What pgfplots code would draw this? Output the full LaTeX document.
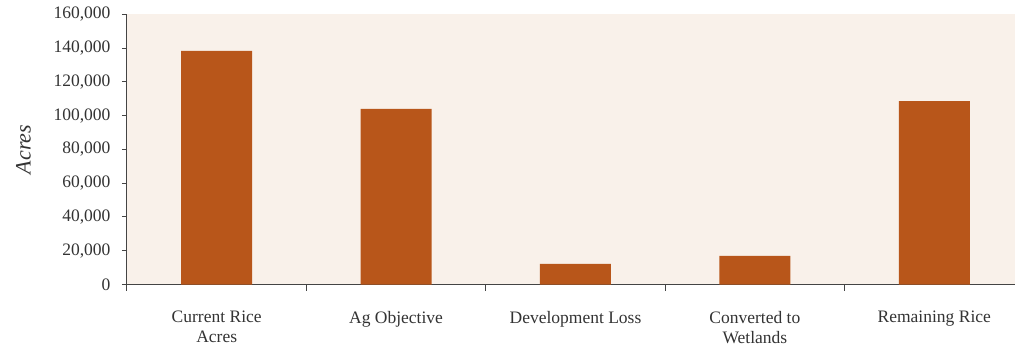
\documentclass[border=0pt]{standalone}
\usepackage{pgfplots}
\pgfplotsset{compat=1.18}
\usepackage{fontspec}
\setmainfont{Liberation Serif}
\definecolor{barcol}{HTML}{B8561A}
\definecolor{bgcol}{HTML}{F9F1EA}
\definecolor{txtcol}{HTML}{333333}
\definecolor{axcol}{HTML}{444444}
\begin{document}
\begin{tikzpicture}
\useasboundingbox (-127pt,-63.5pt) rectangle (888pt,284.5pt);
\begin{axis}[
  anchor=south west,
  scale only axis,
  width=888pt, height=270pt,
  xmin=-0.5, xmax=4.45,
  ymin=0, ymax=160000,
  axis x line=bottom, axis y line=left,
  axis line style={-, color=axcol, line width=1pt},
  axis background/.style={fill=bgcol},
  font=\fontsize{17.5}{20}\selectfont,
  tick align=outside,
  tick style={color=axcol, line width=1pt},
  major tick length=5pt, minor tick length=6pt,
  xtick={0,1,2,3,4},
  xticklabels={{Current Rice\\Acres},{Ag Objective},{Development Loss},{Converted to\\Wetlands},{Remaining Rice}},
  major x tick style={draw=none},
  minor xtick={-0.5,0.5,1.5,2.5,3.5},
  x tick label style={align=center, text=txtcol, yshift=-18pt},
  scaled y ticks=false,
  ytick={0,20000,40000,60000,80000,100000,120000,140000,160000},
  yticklabels={0,{20,000},{40,000},{60,000},{80,000},{100,000},{120,000},{140,000},{160,000}},
  y tick label style={text=txtcol, xshift=-8pt},
  ylabel={\textit{Acres}},
  ylabel style={text=txtcol, font=\fontsize{22}{24}\selectfont, yshift=16pt},
]
\addplot[ybar, bar width=71pt, fill=barcol, draw=none]
  coordinates {(0,138400) (1,104000) (2,12200) (3,16900) (4,108700)};
\end{axis}
\end{tikzpicture}
\end{document}
